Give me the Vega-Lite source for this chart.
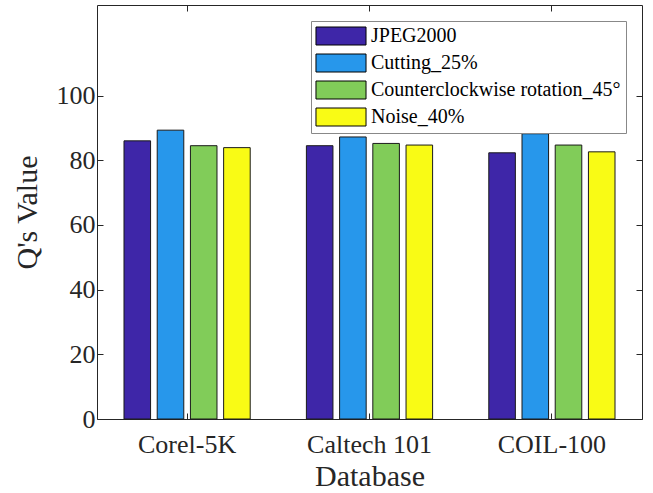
{
  "$schema": "https://vega.github.io/schema/vega-lite/v6.json",
  "width": 545,
  "height": 414,
  "autosize": {"type": "none"},
  "padding": {"left": 97, "top": 5, "right": 11, "bottom": 74},
  "config": {
    "font": "Liberation Serif",
    "view": {"stroke": "#262626", "strokeWidth": 1},
    "axis": {"grid": false, "domain": false, "tickColor": "#262626", "labelColor": "#262626", "titleColor": "#262626", "titleFontWeight": "normal", "labelFont": "Liberation Serif", "titleFont": "Liberation Serif"},
    "legend": {"labelFont": "Liberation Serif"}
  },
  "data": {
    "values": [
      {"db": "Corel-5K", "method": "JPEG2000", "value": 86.0},
      {"db": "Corel-5K", "method": "Cutting_25%", "value": 89.3},
      {"db": "Corel-5K", "method": "Counterclockwise rotation_45°", "value": 84.5},
      {"db": "Corel-5K", "method": "Noise_40%", "value": 83.9},
      {"db": "Caltech 101", "method": "JPEG2000", "value": 84.5},
      {"db": "Caltech 101", "method": "Cutting_25%", "value": 87.2},
      {"db": "Caltech 101", "method": "Counterclockwise rotation_45°", "value": 85.2},
      {"db": "Caltech 101", "method": "Noise_40%", "value": 84.7},
      {"db": "COIL-100", "method": "JPEG2000", "value": 82.3},
      {"db": "COIL-100", "method": "Cutting_25%", "value": 88.2},
      {"db": "COIL-100", "method": "Counterclockwise rotation_45°", "value": 84.7},
      {"db": "COIL-100", "method": "Noise_40%", "value": 82.6}
    ]
  },
  "layer": [
    {
      "mark": {"type": "bar", "stroke": "#1a1a1a", "strokeWidth": 1},
      "encoding": {
        "x": {
          "field": "db", "type": "nominal",
          "sort": ["Corel-5K", "Caltech 101", "COIL-100"],
          "scale": {"paddingInner": 0.308, "paddingOuter": 0.148},
          "axis": {"orient": "bottom", "title": "Database", "labelAngle": 0, "labelFontSize": 26, "titleFontSize": 30, "tickSize": -6, "labelPadding": 18, "titlePadding": 4}
        },
        "xOffset": {
          "field": "method", "type": "nominal",
          "sort": ["JPEG2000", "Cutting_25%", "Counterclockwise rotation_45°", "Noise_40%"],
          "scale": {"paddingInner": 0.2, "paddingOuter": 0}
        },
        "y": {
          "field": "value", "type": "quantitative",
          "scale": {"domain": [0, 128], "nice": false, "zero": true},
          "axis": {"orient": "left", "title": "Q's Value", "values": [0, 20, 40, 60, 80, 100], "labelFontSize": 26, "titleFontSize": 30, "tickSize": -6, "labelPadding": 8, "titlePadding": 14}
        },
        "color": {
          "field": "method", "type": "nominal",
          "sort": ["JPEG2000", "Cutting_25%", "Counterclockwise rotation_45°", "Noise_40%"],
          "scale": {"range": ["#3E26A8", "#2797EB", "#81CC59", "#F9FB15"]},
          "legend": {
            "title": null, "orient": "top-right", "offset": 16, "padding": 5,
            "strokeColor": "#888888", "fillColor": "white",
            "labelFont": "Liberation Serif", "labelFontSize": 20, "labelColor": "#000000", "labelLimit": 0,
            "symbolType": "M-2.78,-1H2.78V1H-2.78Z", "symbolSize": 324,
            "symbolStrokeColor": "#000000", "symbolStrokeWidth": 1, "symbolOpacity": 1,
            "symbolOffset": 15, "labelOffset": 20, "rowPadding": 5
          }
        }
      }
    },
    {
      "mark": {"type": "bar", "opacity": 0},
      "encoding": {
        "x": {
          "field": "db", "type": "nominal",
          "sort": ["Corel-5K", "Caltech 101", "COIL-100"],
          "axis": {"orient": "top", "title": null, "labels": false, "tickSize": -6}
        },
        "xOffset": {
          "field": "method", "type": "nominal",
          "sort": ["JPEG2000", "Cutting_25%", "Counterclockwise rotation_45°", "Noise_40%"]
        },
        "y": {
          "field": "value", "type": "quantitative",
          "axis": {"orient": "right", "title": null, "labels": false, "values": [0, 20, 40, 60, 80, 100], "tickSize": -6}
        }
      }
    }
  ],
  "resolve": {"axis": {"x": "independent", "y": "independent"}}
}
